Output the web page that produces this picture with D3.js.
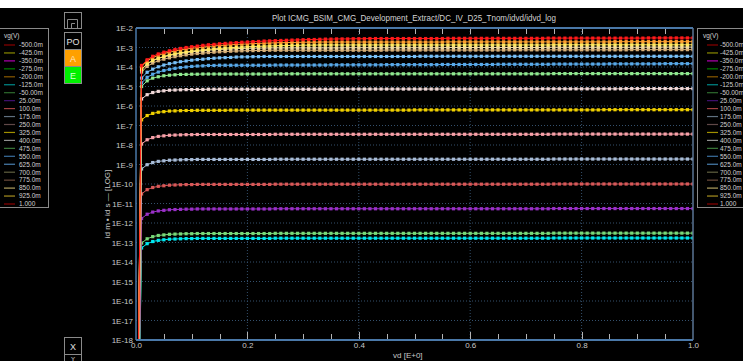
<!DOCTYPE html>
<html>
<head>
<meta charset="utf-8">
<script src="https://cdn.jsdelivr.net/npm/d3@7"></script>
<style>
html,body{margin:0;padding:0;background:#000;overflow:hidden}
svg{display:block}
text{font-family:"Liberation Sans",Arial,sans-serif}
</style>
</head>
<body>
<svg id="chart" width="743" height="361"></svg>
<script>
// Gate voltage steps shown in the legends
const vgLabels = ["-500.0m","-425.0m","-350.0m","-275.0m","-200.0m","-125.0m","-50.00m","25.00m","100.0m","175.0m","250.0m","325.0m","400.0m","475.0m","550.0m","625.0m","700.0m","775.0m","850.0m","925.0m","1.000"];
const legendColors = ["#8b0000","#8a8a00","#b000b0","#008000","#8b5a00","#008b8b","#2e6b2e","#401070","#a04040","#607080","#604848","#a09000","#909090","#3a7a3a","#3a70a0","#4a80b0","#606040","#6a4a3a","#b0a060","#a89020","#8b0000"];

// Drain voltage sweep (V)
const vdSweep = [0,
.01,.02,.03,.04,.05,.06,.07,.08,.09,.10,
.11,.12,.13,.14,.15,.16,.17,.18,.19,.20,
.21,.22,.23,.24,.25,.26,.27,.28,.29,.30,
.31,.32,.33,.34,.35,.36,.37,.38,.39,.40,
.41,.42,.43,.44,.45,.46,.47,.48,.49,.50,
.51,.52,.53,.54,.55,.56,.57,.58,.59,.60,
.61,.62,.63,.64,.65,.66,.67,.68,.69,.70,
.71,.72,.73,.74,.75,.76,.77,.78,.79,.80,
.81,.82,.83,.84,.85,.86,.87,.88,.89,.90,
.91,.92,.93,.94,.95,.96,.97,.98,.99,1.00];

// log10 |id| (A) per gate voltage, one value per vd step
const logId_vgm125 = [-30,
-13.28,-13.06,-12.95,-12.89,-12.86,-12.83,-12.82,-12.81,-12.80,-12.80,
-12.79,-12.79,-12.79,-12.79,-12.79,-12.79,-12.79,-12.79,-12.79,-12.79,
-12.79,-12.79,-12.79,-12.79,-12.78,-12.78,-12.78,-12.78,-12.78,-12.78,
-12.78,-12.78,-12.78,-12.78,-12.78,-12.78,-12.78,-12.78,-12.78,-12.78,
-12.78,-12.78,-12.78,-12.78,-12.78,-12.78,-12.78,-12.78,-12.78,-12.78,
-12.78,-12.78,-12.78,-12.78,-12.78,-12.78,-12.78,-12.78,-12.78,-12.78,
-12.78,-12.78,-12.78,-12.78,-12.78,-12.78,-12.78,-12.78,-12.78,-12.78,
-12.78,-12.78,-12.78,-12.78,-12.77,-12.77,-12.77,-12.77,-12.77,-12.77,
-12.77,-12.77,-12.77,-12.77,-12.77,-12.77,-12.77,-12.77,-12.77,-12.77,
-12.77,-12.77,-12.77,-12.77,-12.77,-12.77,-12.77,-12.77,-12.77,-12.77];
const logId_vgm50 = [-30,
-13.03,-12.81,-12.70,-12.64,-12.61,-12.58,-12.57,-12.56,-12.55,-12.55,
-12.54,-12.54,-12.54,-12.54,-12.54,-12.54,-12.54,-12.54,-12.54,-12.54,
-12.54,-12.54,-12.54,-12.54,-12.53,-12.53,-12.53,-12.53,-12.53,-12.53,
-12.53,-12.53,-12.53,-12.53,-12.53,-12.53,-12.53,-12.53,-12.53,-12.53,
-12.53,-12.53,-12.53,-12.53,-12.53,-12.53,-12.53,-12.53,-12.53,-12.53,
-12.53,-12.53,-12.53,-12.53,-12.53,-12.53,-12.53,-12.53,-12.53,-12.53,
-12.53,-12.53,-12.53,-12.53,-12.53,-12.53,-12.53,-12.53,-12.53,-12.53,
-12.53,-12.53,-12.53,-12.53,-12.52,-12.52,-12.52,-12.52,-12.52,-12.52,
-12.52,-12.52,-12.52,-12.52,-12.52,-12.52,-12.52,-12.52,-12.52,-12.52,
-12.52,-12.52,-12.52,-12.52,-12.52,-12.52,-12.52,-12.52,-12.52,-12.52];
const logId_vg25 = [-30,
-11.77,-11.55,-11.44,-11.38,-11.35,-11.32,-11.31,-11.30,-11.29,-11.29,
-11.28,-11.28,-11.28,-11.28,-11.28,-11.28,-11.28,-11.28,-11.28,-11.28,
-11.28,-11.28,-11.28,-11.28,-11.27,-11.27,-11.27,-11.27,-11.27,-11.27,
-11.27,-11.27,-11.27,-11.27,-11.27,-11.27,-11.27,-11.27,-11.27,-11.27,
-11.27,-11.27,-11.27,-11.27,-11.27,-11.27,-11.27,-11.27,-11.27,-11.27,
-11.27,-11.27,-11.27,-11.27,-11.27,-11.27,-11.27,-11.27,-11.27,-11.27,
-11.27,-11.27,-11.27,-11.27,-11.27,-11.27,-11.27,-11.27,-11.27,-11.27,
-11.27,-11.27,-11.27,-11.27,-11.26,-11.26,-11.26,-11.26,-11.26,-11.26,
-11.26,-11.26,-11.26,-11.26,-11.26,-11.26,-11.26,-11.26,-11.26,-11.26,
-11.26,-11.26,-11.26,-11.26,-11.26,-11.26,-11.26,-11.26,-11.26,-11.26];
const logId_vg100 = [-30,
-10.51,-10.29,-10.18,-10.12,-10.09,-10.06,-10.05,-10.04,-10.03,-10.03,
-10.02,-10.02,-10.02,-10.02,-10.02,-10.02,-10.02,-10.02,-10.02,-10.02,
-10.02,-10.02,-10.02,-10.02,-10.01,-10.01,-10.01,-10.01,-10.01,-10.01,
-10.01,-10.01,-10.01,-10.01,-10.01,-10.01,-10.01,-10.01,-10.01,-10.01,
-10.01,-10.01,-10.01,-10.01,-10.01,-10.01,-10.01,-10.01,-10.01,-10.01,
-10.01,-10.01,-10.01,-10.01,-10.01,-10.01,-10.01,-10.01,-10.01,-10.01,
-10.01,-10.01,-10.01,-10.01,-10.01,-10.01,-10.01,-10.01,-10.01,-10.01,
-10.01,-10.01,-10.01,-10.01,-10.00,-10.00,-10.00,-10.00,-10.00,-10.00,
-10.00,-10.00,-10.00,-10.00,-10.00,-10.00,-10.00,-10.00,-10.00,-10.00,
-10.00,-10.00,-10.00,-10.00,-10.00,-10.00,-10.00,-10.00,-10.00,-10.00];
const logId_vg175 = [-30,
-9.23,-9.01,-8.90,-8.84,-8.81,-8.78,-8.77,-8.76,-8.75,-8.75,
-8.74,-8.74,-8.74,-8.74,-8.74,-8.74,-8.74,-8.74,-8.74,-8.74,
-8.74,-8.74,-8.74,-8.74,-8.73,-8.73,-8.73,-8.73,-8.73,-8.73,
-8.73,-8.73,-8.73,-8.73,-8.73,-8.73,-8.73,-8.73,-8.73,-8.73,
-8.73,-8.73,-8.73,-8.73,-8.73,-8.73,-8.73,-8.73,-8.73,-8.73,
-8.73,-8.73,-8.73,-8.73,-8.73,-8.73,-8.73,-8.73,-8.73,-8.73,
-8.73,-8.73,-8.73,-8.73,-8.73,-8.73,-8.73,-8.73,-8.73,-8.73,
-8.73,-8.73,-8.73,-8.73,-8.72,-8.72,-8.72,-8.72,-8.72,-8.72,
-8.72,-8.72,-8.72,-8.72,-8.72,-8.72,-8.72,-8.72,-8.72,-8.72,
-8.72,-8.72,-8.72,-8.72,-8.72,-8.72,-8.72,-8.72,-8.72,-8.72];
const logId_vg250 = [-30,
-7.95,-7.73,-7.62,-7.56,-7.53,-7.50,-7.49,-7.48,-7.47,-7.47,
-7.46,-7.46,-7.46,-7.46,-7.46,-7.46,-7.46,-7.46,-7.46,-7.46,
-7.46,-7.46,-7.46,-7.46,-7.45,-7.45,-7.45,-7.45,-7.45,-7.45,
-7.45,-7.45,-7.45,-7.45,-7.45,-7.45,-7.45,-7.45,-7.45,-7.45,
-7.45,-7.45,-7.45,-7.45,-7.45,-7.45,-7.45,-7.45,-7.45,-7.45,
-7.45,-7.45,-7.45,-7.45,-7.45,-7.45,-7.45,-7.45,-7.45,-7.45,
-7.45,-7.45,-7.45,-7.45,-7.45,-7.45,-7.45,-7.45,-7.45,-7.45,
-7.45,-7.45,-7.45,-7.45,-7.44,-7.44,-7.44,-7.44,-7.44,-7.44,
-7.44,-7.44,-7.44,-7.44,-7.44,-7.44,-7.44,-7.44,-7.44,-7.44,
-7.44,-7.44,-7.44,-7.44,-7.44,-7.44,-7.44,-7.44,-7.44,-7.44];
const logId_vg325 = [-30,
-6.71,-6.49,-6.38,-6.32,-6.29,-6.26,-6.25,-6.24,-6.23,-6.23,
-6.22,-6.22,-6.22,-6.22,-6.22,-6.22,-6.21,-6.21,-6.21,-6.21,
-6.21,-6.21,-6.21,-6.21,-6.21,-6.21,-6.21,-6.21,-6.21,-6.21,
-6.21,-6.21,-6.21,-6.21,-6.21,-6.21,-6.21,-6.21,-6.21,-6.21,
-6.21,-6.21,-6.21,-6.21,-6.21,-6.21,-6.21,-6.21,-6.21,-6.20,
-6.20,-6.20,-6.20,-6.20,-6.20,-6.20,-6.20,-6.20,-6.20,-6.20,
-6.20,-6.20,-6.20,-6.20,-6.20,-6.20,-6.20,-6.20,-6.20,-6.20,
-6.20,-6.20,-6.20,-6.20,-6.20,-6.20,-6.20,-6.20,-6.20,-6.20,
-6.20,-6.20,-6.20,-6.19,-6.19,-6.19,-6.19,-6.19,-6.19,-6.19,
-6.19,-6.19,-6.19,-6.19,-6.19,-6.19,-6.19,-6.19,-6.19,-6.19];
const logId_vg400 = [-30,
-5.64,-5.42,-5.31,-5.25,-5.22,-5.19,-5.18,-5.17,-5.16,-5.16,
-5.15,-5.15,-5.14,-5.14,-5.14,-5.14,-5.14,-5.14,-5.14,-5.14,
-5.14,-5.14,-5.14,-5.14,-5.14,-5.14,-5.14,-5.14,-5.14,-5.14,
-5.14,-5.14,-5.14,-5.14,-5.14,-5.14,-5.14,-5.13,-5.13,-5.13,
-5.13,-5.13,-5.13,-5.13,-5.13,-5.13,-5.13,-5.13,-5.13,-5.13,
-5.13,-5.13,-5.13,-5.13,-5.13,-5.13,-5.13,-5.13,-5.13,-5.13,
-5.13,-5.13,-5.12,-5.12,-5.12,-5.12,-5.12,-5.12,-5.12,-5.12,
-5.12,-5.12,-5.12,-5.12,-5.12,-5.12,-5.12,-5.12,-5.12,-5.12,
-5.12,-5.12,-5.12,-5.12,-5.12,-5.12,-5.12,-5.11,-5.11,-5.11,
-5.11,-5.11,-5.11,-5.11,-5.11,-5.11,-5.11,-5.11,-5.11,-5.11];
const logId_vg475 = [-30,
-5.00,-4.71,-4.57,-4.50,-4.45,-4.42,-4.40,-4.38,-4.38,-4.37,
-4.37,-4.36,-4.36,-4.36,-4.36,-4.36,-4.36,-4.36,-4.36,-4.36,
-4.36,-4.36,-4.36,-4.36,-4.35,-4.35,-4.35,-4.35,-4.35,-4.35,
-4.35,-4.35,-4.35,-4.35,-4.35,-4.35,-4.35,-4.35,-4.35,-4.35,
-4.35,-4.35,-4.35,-4.35,-4.35,-4.35,-4.35,-4.35,-4.35,-4.35,
-4.35,-4.35,-4.35,-4.35,-4.35,-4.35,-4.35,-4.35,-4.35,-4.35,
-4.35,-4.35,-4.35,-4.35,-4.35,-4.35,-4.35,-4.35,-4.35,-4.35,
-4.35,-4.35,-4.35,-4.35,-4.34,-4.34,-4.34,-4.34,-4.34,-4.34,
-4.34,-4.34,-4.34,-4.34,-4.34,-4.34,-4.34,-4.34,-4.34,-4.34,
-4.34,-4.34,-4.34,-4.34,-4.34,-4.34,-4.34,-4.34,-4.34,-4.34];
const logId_vg550 = [-30,
-4.82,-4.53,-4.37,-4.26,-4.18,-4.12,-4.07,-4.03,-4.00,-3.97,
-3.95,-3.94,-3.92,-3.92,-3.91,-3.91,-3.91,-3.91,-3.91,-3.91,
-3.91,-3.91,-3.91,-3.91,-3.90,-3.90,-3.90,-3.90,-3.90,-3.90,
-3.90,-3.90,-3.90,-3.90,-3.89,-3.89,-3.89,-3.89,-3.89,-3.89,
-3.89,-3.89,-3.89,-3.89,-3.88,-3.88,-3.88,-3.88,-3.88,-3.88,
-3.88,-3.88,-3.88,-3.88,-3.87,-3.87,-3.87,-3.87,-3.87,-3.87,
-3.87,-3.87,-3.87,-3.87,-3.86,-3.86,-3.86,-3.86,-3.86,-3.86,
-3.86,-3.86,-3.86,-3.86,-3.85,-3.85,-3.85,-3.85,-3.85,-3.85,
-3.85,-3.85,-3.85,-3.85,-3.84,-3.84,-3.84,-3.84,-3.84,-3.84,
-3.84,-3.84,-3.84,-3.84,-3.83,-3.83,-3.83,-3.83,-3.83,-3.83];
const logId_vg625 = [-30,
-4.57,-4.27,-4.11,-3.99,-3.90,-3.83,-3.78,-3.73,-3.69,-3.65,
-3.62,-3.60,-3.57,-3.55,-3.53,-3.52,-3.51,-3.49,-3.48,-3.48,
-3.47,-3.47,-3.46,-3.46,-3.46,-3.46,-3.46,-3.46,-3.46,-3.46,
-3.46,-3.46,-3.46,-3.46,-3.46,-3.46,-3.46,-3.46,-3.46,-3.46,
-3.46,-3.46,-3.46,-3.46,-3.46,-3.46,-3.46,-3.46,-3.46,-3.46,
-3.45,-3.45,-3.45,-3.45,-3.45,-3.45,-3.45,-3.45,-3.45,-3.45,
-3.45,-3.45,-3.45,-3.45,-3.45,-3.45,-3.45,-3.45,-3.45,-3.45,
-3.45,-3.45,-3.45,-3.45,-3.45,-3.45,-3.45,-3.45,-3.45,-3.45,
-3.45,-3.45,-3.45,-3.45,-3.45,-3.45,-3.45,-3.45,-3.45,-3.45,
-3.45,-3.45,-3.45,-3.45,-3.45,-3.45,-3.45,-3.45,-3.45,-3.45];
const logId_vg700 = [-30,
-4.26,-3.97,-3.80,-3.68,-3.60,-3.53,-3.47,-3.42,-3.38,-3.34,
-3.31,-3.29,-3.26,-3.24,-3.22,-3.21,-3.19,-3.18,-3.17,-3.16,
-3.16,-3.15,-3.15,-3.14,-3.14,-3.14,-3.14,-3.14,-3.14,-3.14,
-3.14,-3.14,-3.14,-3.14,-3.14,-3.14,-3.14,-3.14,-3.14,-3.14,
-3.14,-3.14,-3.14,-3.14,-3.13,-3.13,-3.13,-3.13,-3.13,-3.13,
-3.13,-3.13,-3.13,-3.13,-3.13,-3.13,-3.13,-3.13,-3.13,-3.13,
-3.13,-3.13,-3.13,-3.13,-3.13,-3.13,-3.12,-3.12,-3.12,-3.12,
-3.12,-3.12,-3.12,-3.12,-3.12,-3.12,-3.12,-3.12,-3.12,-3.12,
-3.12,-3.12,-3.12,-3.12,-3.12,-3.12,-3.12,-3.12,-3.11,-3.11,
-3.11,-3.11,-3.11,-3.11,-3.11,-3.11,-3.11,-3.11,-3.11,-3.11];
const logId_vg775 = [-30,
-4.14,-3.85,-3.68,-3.56,-3.48,-3.41,-3.35,-3.30,-3.26,-3.22,
-3.19,-3.17,-3.14,-3.12,-3.10,-3.09,-3.07,-3.06,-3.05,-3.04,
-3.04,-3.03,-3.03,-3.02,-3.02,-3.02,-3.02,-3.02,-3.02,-3.02,
-3.02,-3.02,-3.02,-3.02,-3.02,-3.02,-3.02,-3.01,-3.01,-3.01,
-3.01,-3.01,-3.01,-3.01,-3.01,-3.01,-3.01,-3.01,-3.01,-3.01,
-3.01,-3.01,-3.01,-3.01,-3.01,-3.00,-3.00,-3.00,-3.00,-3.00,
-3.00,-3.00,-3.00,-3.00,-3.00,-3.00,-3.00,-3.00,-3.00,-3.00,
-3.00,-3.00,-3.00,-2.99,-2.99,-2.99,-2.99,-2.99,-2.99,-2.99,
-2.99,-2.99,-2.99,-2.99,-2.99,-2.99,-2.99,-2.99,-2.99,-2.99,
-2.99,-2.98,-2.98,-2.98,-2.98,-2.98,-2.98,-2.98,-2.98,-2.98];
const logId_vg850 = [-30,
-4.13,-3.83,-3.66,-3.55,-3.46,-3.38,-3.32,-3.27,-3.23,-3.19,
-3.15,-3.12,-3.10,-3.07,-3.05,-3.03,-3.01,-2.99,-2.98,-2.96,
-2.95,-2.94,-2.93,-2.92,-2.91,-2.90,-2.90,-2.89,-2.89,-2.88,
-2.88,-2.88,-2.87,-2.87,-2.87,-2.87,-2.87,-2.87,-2.87,-2.87,
-2.87,-2.87,-2.87,-2.87,-2.87,-2.87,-2.87,-2.87,-2.87,-2.87,
-2.87,-2.87,-2.87,-2.87,-2.87,-2.87,-2.87,-2.87,-2.87,-2.87,
-2.87,-2.87,-2.87,-2.87,-2.87,-2.87,-2.87,-2.87,-2.87,-2.87,
-2.87,-2.87,-2.87,-2.87,-2.86,-2.86,-2.86,-2.86,-2.86,-2.86,
-2.86,-2.86,-2.86,-2.86,-2.86,-2.86,-2.86,-2.86,-2.86,-2.86,
-2.86,-2.86,-2.86,-2.86,-2.86,-2.86,-2.86,-2.86,-2.86,-2.86];
const logId_vg925 = [-30,
-3.98,-3.69,-3.52,-3.40,-3.31,-3.24,-3.18,-3.12,-3.08,-3.04,
-3.01,-2.98,-2.95,-2.92,-2.90,-2.88,-2.86,-2.84,-2.83,-2.82,
-2.80,-2.79,-2.78,-2.77,-2.76,-2.75,-2.75,-2.74,-2.74,-2.73,
-2.73,-2.73,-2.72,-2.72,-2.72,-2.72,-2.72,-2.72,-2.72,-2.72,
-2.72,-2.72,-2.72,-2.72,-2.72,-2.72,-2.72,-2.72,-2.72,-2.72,
-2.72,-2.72,-2.72,-2.72,-2.72,-2.71,-2.71,-2.71,-2.71,-2.71,
-2.71,-2.71,-2.71,-2.71,-2.71,-2.71,-2.71,-2.71,-2.71,-2.71,
-2.71,-2.71,-2.71,-2.71,-2.71,-2.71,-2.71,-2.71,-2.71,-2.71,
-2.71,-2.71,-2.71,-2.71,-2.71,-2.70,-2.70,-2.70,-2.70,-2.70,
-2.70,-2.70,-2.70,-2.70,-2.70,-2.70,-2.70,-2.70,-2.70,-2.70];
const logId_vg1000 = [-30,
-3.92,-3.63,-3.45,-3.33,-3.24,-3.17,-3.10,-3.05,-3.00,-2.96,
-2.93,-2.89,-2.86,-2.84,-2.81,-2.79,-2.77,-2.75,-2.73,-2.72,
-2.70,-2.69,-2.67,-2.66,-2.65,-2.64,-2.63,-2.62,-2.61,-2.60,
-2.59,-2.59,-2.58,-2.57,-2.57,-2.56,-2.56,-2.56,-2.55,-2.55,
-2.55,-2.54,-2.54,-2.54,-2.54,-2.54,-2.54,-2.54,-2.54,-2.54,
-2.54,-2.54,-2.54,-2.54,-2.54,-2.53,-2.53,-2.53,-2.53,-2.53,
-2.53,-2.53,-2.53,-2.53,-2.53,-2.53,-2.53,-2.53,-2.53,-2.53,
-2.53,-2.53,-2.53,-2.52,-2.52,-2.52,-2.52,-2.52,-2.52,-2.52,
-2.52,-2.52,-2.52,-2.52,-2.52,-2.52,-2.52,-2.52,-2.52,-2.52,
-2.52,-2.51,-2.51,-2.51,-2.51,-2.51,-2.51,-2.51,-2.51,-2.51];

// Plotted curves, lowest gate voltage first so the higher ones sit on top
const curveVg = ["-125.0m","-50.00m","25.00m","100.0m","175.0m","250.0m","325.0m","400.0m","475.0m","550.0m","625.0m","700.0m","775.0m","850.0m","925.0m","1.000"];
const curveColors = ["#00e8f0","#78d878","#9a30c8","#d85858","#a8bcd8","#f8a0a8","#f0d000","#f0d8d8","#90e890","#58a8e8","#78c0f8","#d8b078","#f0d8a0","#ffe860","#ffa030","#ff1a1a"];
const curveLogId = [logId_vgm125,logId_vgm50,logId_vg25,logId_vg100,logId_vg175,logId_vg250,logId_vg325,logId_vg400,logId_vg475,logId_vg550,logId_vg625,logId_vg700,logId_vg775,logId_vg850,logId_vg925,logId_vg1000];

// Axis ticks
const yDecadeTicks = [1e-2,1e-3,1e-4,1e-5,1e-6,1e-7,1e-8,1e-9,1e-10,1e-11,1e-12,1e-13,1e-14,1e-15,1e-16,1e-17,1e-18];
const xLabelTicks = [0,0.2,0.4,0.6,0.8,1.0];
const xGridTicks = [0.2,0.4,0.6,0.8];
const xMinorTicks = [0.05,0.1,0.15,0.2,0.25,0.3,0.35,0.4,0.45,0.5,0.55,0.6,0.65,0.7,0.75,0.8,0.85,0.9,0.95];

const titleText = "Plot ICMG_BSIM_CMG_Development_Extract/DC_IV_D25_Tnom/idvd/idvd_log";

const W = 743, H = 361;
const P = {left:136, right:693, top:28, bottom:340};

const svg = d3.select("#chart");
svg.append("rect").attr("width",W).attr("height",H).attr("fill","#000");
svg.append("rect").attr("x",0).attr("y",0).attr("width",W).attr("height",8).attr("fill","#fff");

const x = d3.scaleLinear().domain([0,1]).range([P.left,P.right]);
const y = d3.scaleLog().domain([1e-18,1e-2]).range([P.bottom,P.top]);

// title
svg.append("text").attr("x",414).attr("y",21).attr("text-anchor","middle")
  .attr("fill","#d4d4d4").attr("font-size",8.8)
  .attr("textLength",284).attr("lengthAdjust","spacingAndGlyphs").text(titleText);

// dotted grid
const grid = svg.append("g");
grid.selectAll("line.h").data(yDecadeTicks.slice(1,-1)).join("line")
  .attr("x1",P.left).attr("x2",P.right).attr("y1",d=>y(d)).attr("y2",d=>y(d))
  .attr("stroke","#34506c").attr("stroke-width",1).attr("stroke-dasharray","1,2");
grid.selectAll("line.v").data(xGridTicks).join("line")
  .attr("x1",d=>x(d)).attr("x2",d=>x(d)).attr("y1",P.top).attr("y2",P.bottom)
  .attr("stroke","#34506c").attr("stroke-width",1).attr("stroke-dasharray","1,2");

// minor log ticks along the left edge
const minorY = y.ticks().filter(d => Math.abs(Math.log10(d) - Math.round(Math.log10(d))) > 1e-6);
svg.append("g").selectAll("line").data(minorY).join("line")
  .attr("x1",P.left).attr("x2",P.left+11).attr("y1",d=>Math.round(y(d))+0.5).attr("y2",d=>Math.round(y(d))+0.5)
  .attr("stroke","#9a9a9a").attr("stroke-width",1);

// top and bottom x ticks
const tk = svg.append("g").attr("stroke","#b4b4b4").attr("stroke-width",1);
tk.selectAll("line.t").data(xMinorTicks).join("line")
  .attr("x1",d=>Math.round(x(d))+0.5).attr("x2",d=>Math.round(x(d))+0.5).attr("y1",P.top).attr("y2",P.top+6);
tk.selectAll("line.b").data(xMinorTicks).join("line")
  .attr("x1",d=>Math.round(x(d))+0.5).attr("x2",d=>Math.round(x(d))+0.5)
  .attr("y1",P.bottom).attr("y2",d=>P.bottom-(xGridTicks.includes(d)?8:6));

// curves
const defs = svg.append("defs");
defs.append("clipPath").attr("id","plotClip").append("rect")
  .attr("x",P.left).attr("y",P.top).attr("width",P.right-P.left).attr("height",P.bottom-P.top);
const plot = svg.append("g").attr("clip-path","url(#plotClip)");
const line = d3.line().x((d,i)=>x(vdSweep[i])).y(d=>y(Math.pow(10,d)));
curveLogId.forEach((series,ci)=>{
  const g = plot.append("g");
  g.append("path").attr("d",line(series)).attr("fill","none")
    .attr("stroke",curveColors[ci]).attr("stroke-width",1);
  g.selectAll("rect").data(series).join("rect")
    .attr("x",(d,i)=>x(vdSweep[i])-1.6).attr("y",d=>y(Math.pow(10,d))-1.6)
    .attr("width",3.2).attr("height",3.2).attr("fill",curveColors[ci]);
});

// frame
const fr = svg.append("g");
fr.append("line").attr("x1",P.left).attr("x2",P.right).attr("y1",P.top).attr("y2",P.top).attr("stroke","#4a78a8").attr("stroke-width",2);
fr.append("line").attr("x1",P.left).attr("x2",P.right).attr("y1",P.bottom).attr("y2",P.bottom).attr("stroke","#4a78a8").attr("stroke-width",2);
fr.append("line").attr("x1",P.left).attr("x2",P.left).attr("y1",P.top).attr("y2",P.bottom).attr("stroke","#4a78a8").attr("stroke-width",1.5);
fr.append("line").attr("x1",P.right).attr("x2",P.right).attr("y1",P.top).attr("y2",P.bottom).attr("stroke","#5a7494").attr("stroke-width",1.5);

// axis labels
const yAxis = svg.append("g").attr("transform",`translate(${P.left-1},0)`)
  .call(d3.axisLeft(y).tickValues(yDecadeTicks).tickSize(0).tickPadding(2)
    .tickFormat(d=>"1E"+Math.round(Math.log10(d))));
yAxis.select(".domain").remove();
yAxis.selectAll("text").attr("fill","#c8c8c8").attr("font-size",8).attr("font-family","Liberation Sans, Arial, sans-serif");

const xAxis = svg.append("g").attr("transform",`translate(0,${P.bottom})`)
  .call(d3.axisBottom(x).tickValues(xLabelTicks).tickSize(0).tickPadding(2).tickFormat(d3.format(".1f")));
xAxis.select(".domain").remove();
xAxis.selectAll("text").attr("fill","#c8c8c8").attr("font-size",8).attr("font-family","Liberation Sans, Arial, sans-serif");

svg.append("text").attr("x",393).attr("y",358).attr("fill","#c8c8c8").attr("font-size",8).text("vd  [E+0]");

const yl = svg.append("g").attr("transform","translate(110,204) rotate(-90)");
yl.append("text").attr("text-anchor","middle").attr("fill","#c8c8c8").attr("font-size",8)
  .text("id m \u25AA id s \u2014 [LOG]");

// legends
function legend(x0, x1, lineX, textX) {
  const g = svg.append("g");
  g.append("rect").attr("x",x0+0.5).attr("y",28.5).attr("width",x1-x0).attr("height",179)
    .attr("fill","#000").attr("stroke","#8a8a8a").attr("stroke-width",1);
  g.append("text").attr("x",x0+6).attr("y",38).attr("fill","#d0d0d0").attr("font-size",6.5).text("vg(V)");
  vgLabels.forEach((lab,i)=>{
    const yy = 45 + i*7.95;
    g.append("line").attr("x1",lineX).attr("x2",lineX+11).attr("y1",yy).attr("y2",yy)
      .attr("stroke",legendColors[i]).attr("stroke-width",1.2);
    g.append("text").attr("x",textX).attr("y",yy+2.3).attr("fill","#d0d0d0").attr("font-size",6.5).text(lab);
  });
}
legend(-2, 48, 4, 19);
legend(697, 746, 707, 720);

// tool buttons on the left strip
const btn = svg.append("g");
btn.append("rect").attr("x",64.5).attr("y",12.5).attr("width",17).attr("height",16).attr("fill","#000").attr("stroke","#8a8a8a");
btn.append("path").attr("d","M67.5 28 V19.5 H77.5 V28 M71.5 28 V23.5 H75").attr("fill","none").attr("stroke","#8a8a8a");
btn.append("rect").attr("x",64.5).attr("y",32.5).attr("width",17).attr("height",17).attr("fill","#000").attr("stroke","#8a8a8a");
btn.append("text").attr("x",73).attr("y",44.5).attr("text-anchor","middle").attr("fill","#e0e0e0").attr("font-size",9).text("PO");
btn.append("rect").attr("x",64.5).attr("y",49.5).attr("width",17).attr("height",17).attr("fill","#ffa000").attr("stroke","#8a8a8a");
btn.append("text").attr("x",73).attr("y",61.5).attr("text-anchor","middle").attr("fill","#ffe6c0").attr("font-size",9).text("A");
btn.append("rect").attr("x",64.5).attr("y",66.5).attr("width",17).attr("height",17).attr("fill","#00f000").attr("stroke","#8a8a8a");
btn.append("text").attr("x",73).attr("y",78.5).attr("text-anchor","middle").attr("fill","#d0ffd0").attr("font-size",9).text("E");
btn.append("rect").attr("x",64.5).attr("y",337.5).attr("width",17).attr("height",17).attr("fill","#000").attr("stroke","#8a8a8a");
btn.append("text").attr("x",73).attr("y",349.5).attr("text-anchor","middle").attr("fill","#e0e0e0").attr("font-size",9).text("X");
btn.append("rect").attr("x",64.5).attr("y",354.5).attr("width",17).attr("height",17).attr("fill","#000").attr("stroke","#8a8a8a");
btn.append("text").attr("x",73).attr("y",360.5).attr("text-anchor","middle").attr("fill","#e0e0e0").attr("font-size",6).text("Y");
</script>
</body>
</html>
